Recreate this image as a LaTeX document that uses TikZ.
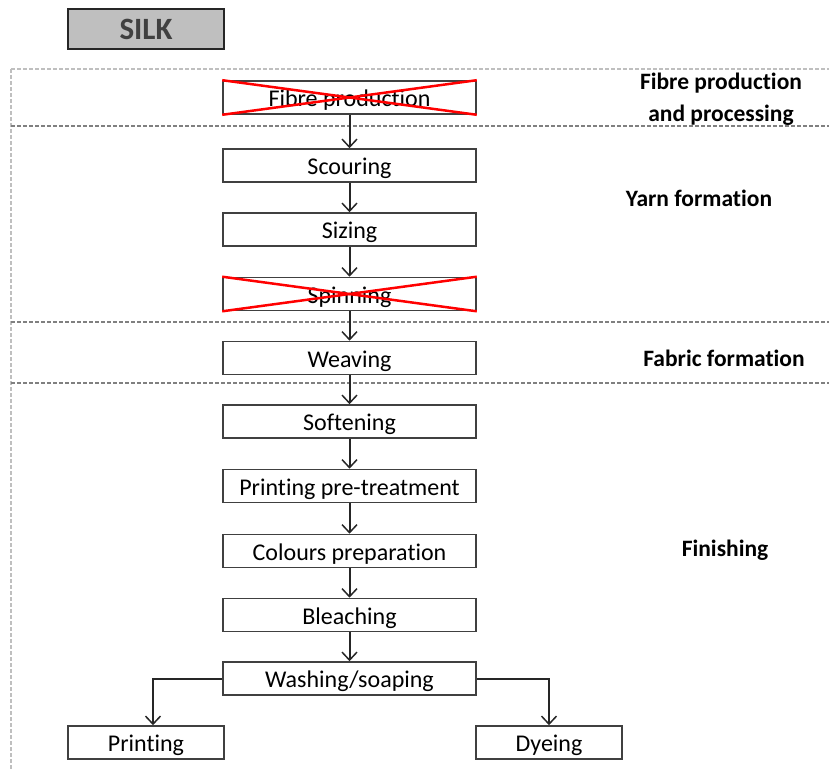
\documentclass[tikz,border=0pt]{standalone}
\usepackage{fontspec}
\setmainfont{Carlito}[Ligatures={NoCommon}]
\usetikzlibrary{arrows.meta}
\tikzset{
  procbox/.style={draw=black!75,line width=1.6pt,fill=white,minimum width=253pt,minimum height=33pt,inner sep=0pt,text height=21pt,text depth=3pt,font=\fontsize{24}{26}\selectfont},
  flow/.style={draw=black!85,line width=2pt,-{Straight Barb[length=8pt,width=15pt,line width=1.5pt]}},
  cross/.style={red,line width=2.5pt},
  zone/.style={gray,line width=1.2pt,dash pattern=on 4pt off 2pt},
  phase/.style={font=\fontsize{23.5}{32}\selectfont\bfseries,align=center}
}
\begin{document}
\begin{tikzpicture}[x=1pt,y=-1pt]
        \useasboundingbox (0,0) rectangle (829,770);
        %title
        \node (silk) at (146,29)[draw=black!85,line width=1.5pt,fill=gray!50,minimum width=156pt,minimum height=40pt,font=\fontsize{31}{34}\selectfont\bfseries,text=black!75] {SILK};
        %zones
        \draw [zone,gray!50] (11,69) -- (829,69);
        \draw [zone,gray!50] (11,69) -- (11,770);
        \draw [zone] (11,126) -- (829,126);
        \draw [zone] (11,322) -- (829,322);
        \draw [zone] (11,383) -- (829,383);
        %phase labels
        \node (lfibre) at (721,99)[phase] {Fibre production\\and processing};
        \node (lyarn) at (699,198)[phase] {Yarn formation};
        \node (lfabric) at (724,358)[phase] {Fabric formation};
        \node (lfinish) at (725,550)[phase] {Finishing};
        %process steps
        \node (fibre) at (349.5,97.5)[procbox] {Fibre production};
        \node (scour) at (349.5,165.5)[procbox] {Scouring};
        \node (sizing) at (349.5,229.5)[procbox] {Sizing};
        \node (spin) at (349.5,294)[procbox] {Spinning};
        \node (weave) at (349.5,358)[procbox] {Weaving};
        \node (soft) at (349.5,421.5)[procbox] {Softening};
        \node (pretreat) at (349.5,486)[procbox] {Printing pre-treatment};
        \node (colours) at (349.5,551)[procbox] {Colours preparation};
        \node (bleach) at (349.5,615)[procbox] {Bleaching};
        \node (wash) at (349.5,678.5)[procbox] {Washing/soaping};
        \node (print) at (146,742.5)[procbox,minimum width=156pt] {Printing};
        \node (dye) at (549,742.5)[procbox,minimum width=146pt] {Dyeing};
        %crossed out steps
        \draw [cross] (fibre.north west) -- (fibre.south east);
        \draw [cross] (fibre.south west) -- (fibre.north east);
        \draw [cross] (spin.north west) -- (spin.south east);
        \draw [cross] (spin.south west) -- (spin.north east);
        %edges
        \draw [flow] (fibre) -- (scour);
        \draw [flow] (scour) -- (sizing);
        \draw [flow] (sizing) -- (spin);
        \draw [flow] (spin) -- (weave);
        \draw [flow] (weave) -- (soft);
        \draw [flow] (soft) -- (pretreat);
        \draw [flow] (pretreat) -- (colours);
        \draw [flow] (colours) -- (bleach);
        \draw [flow] (bleach) -- (wash);
        \draw [flow] (wash.west) -| ([xshift=7pt]print.north);
        \draw [flow] (wash.east) -| (dye.north);
    \end{tikzpicture}
\end{document}
